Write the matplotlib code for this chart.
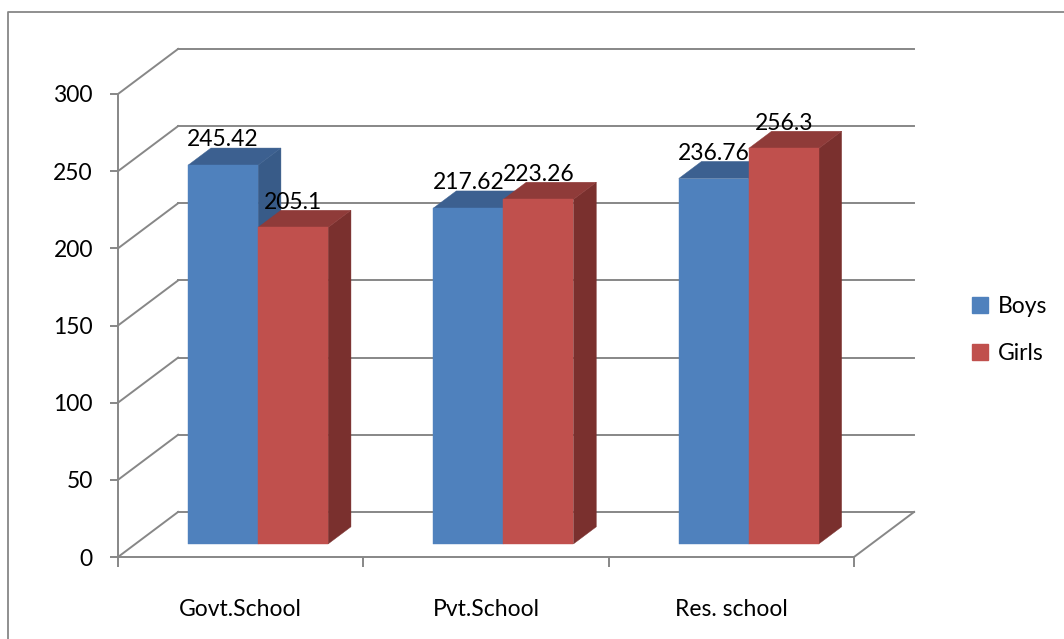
import matplotlib.pyplot as plt
from matplotlib.patches import Polygon, Patch
from matplotlib.lines import Line2D

plt.rcParams['font.family'] = ['Lato', 'DejaVu Sans']

okullar = ["Govt.School", "Pvt.School", "Res. school"]
seriler = ["Boys", "Girls"]
boys = [245.42, 217.62, 236.76]
girls = [205.1, 223.26, 256.3]
yticks = [0, 50, 100, 150, 200, 250, 300]

# renkler: on yuz, ust yuz, yan yuz
renk = {
    "Boys": ("#4f81bd", "#3c6090", "#385b88"),
    "Girls": ("#c0504d", "#8f3b39", "#7a302e"),
}
gri = "#878787"
yazi = 16.5

# derinlik kaymasi (veri biriminde)
DX = 0.245
DY = 29.2


def p(x, y, z):
    return (x + z * DX, y + z * DY)


fig = plt.figure(figsize=(10.64, 6.39), dpi=100)
ax = fig.add_axes([118 / 1064, 82 / 639, 736 / 1064, 463 / 639])
ax.set_xlim(0, 3)
ax.set_ylim(0, 300)
ax.set_facecolor("none")

# sol duvar ve arka duvar cizgileri
for v in yticks:
    ax.add_line(Line2D(*zip(p(0, v, 0), p(0, v, 1)), color=gri, lw=1.4, clip_on=False, zorder=1))
    ax.add_line(Line2D(*zip(p(0, v, 1), p(3, v, 1)), color=gri, lw=1.4, clip_on=False, zorder=1))
ax.add_line(Line2D(*zip(p(3, 0, 0), p(3, 0, 1)), color=gri, lw=1.4, clip_on=False, zorder=1))

# 3B cubuklar
gen = 0.2854
z0, z1 = 0.29, 0.67
for i in range(len(okullar)):
    merkez = i + 0.5
    for j, (ad, deger) in enumerate(zip(seriler, [boys[i], girls[i]])):
        x0 = merkez - gen + j * gen
        x1 = x0 + gen
        on, ust, yan = renk[ad]
        on_yuz = [p(x0, 0, z0), p(x1, 0, z0), p(x1, deger, z0), p(x0, deger, z0)]
        ust_yuz = [p(x0, deger, z0), p(x1, deger, z0), p(x1, deger, z1), p(x0, deger, z1)]
        yan_yuz = [p(x1, 0, z0), p(x1, 0, z1), p(x1, deger, z1), p(x1, deger, z0)]
        for poly, c in [(yan_yuz, yan), (ust_yuz, ust), (on_yuz, on)]:
            ax.add_patch(Polygon(poly, closed=True, facecolor=c, edgecolor=c, lw=0.3,
                                 clip_on=False, zorder=3 + i * 2 + j))
        tx, ty = p((x0 + x1) / 2, deger, z0)
        ax.text(tx, deger + z1 * DY - 1.5, f"{deger:g}", ha="center", va="bottom",
                fontsize=yazi, color="black", zorder=20)

# eksenler
for s in ["top", "right"]:
    ax.spines[s].set_visible(False)
for s in ["left", "bottom"]:
    ax.spines[s].set_color(gri)
    ax.spines[s].set_linewidth(1.4)
ax.set_yticks(yticks)
ax.tick_params(axis="y", length=6, width=1.4, color=gri, labelsize=yazi, pad=12)
ax.set_xticks([0, 1, 2, 3])
ax.set_xticklabels([])
ax.tick_params(axis="x", which="major", length=7, width=1.4, color=gri)
ax.set_xticks([0.5, 1.5, 2.5], minor=True)
ax.set_xticklabels(okullar, minor=True)
ax.tick_params(axis="x", which="minor", length=0, labelsize=yazi, pad=30)

# lejant
el = [Patch(facecolor=renk[s][0], edgecolor=renk[s][0]) for s in seriler]
fig.legend(el, seriler, loc="center left", bbox_to_anchor=(972 / 1064, 1 - 330 / 639),
           frameon=False, fontsize=yazi, handlelength=0.7, handleheight=0.7,
           handletextpad=0.45, labelspacing=1.1, borderpad=0, borderaxespad=0)

# grafik cercevesi
fig.add_artist(Line2D([8 / 1064, 8 / 1064, 1.0], [0, 1 - 12 / 639, 1 - 12 / 639],
                      transform=fig.transFigure, color=gri, lw=1.3))

fig.savefig("out.png", dpi=100)
